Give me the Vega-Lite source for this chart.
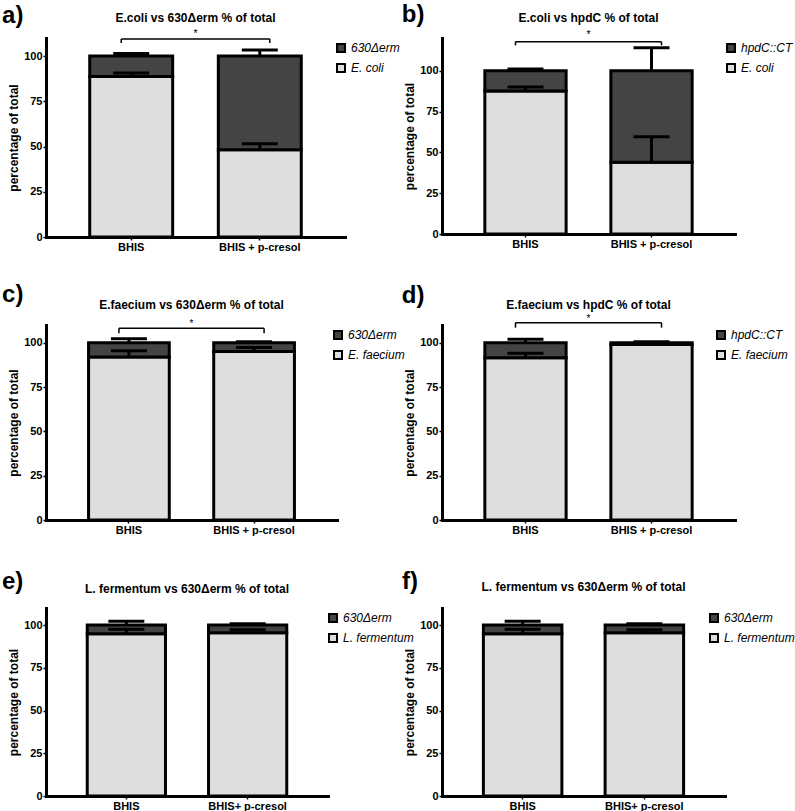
{
  "$schema": "https://vega.github.io/schema/vega-lite/v6.json",
  "padding": {"left": 2, "top": 2, "right": 0, "bottom": 0},
  "columns": 2,
  "bounds": "flush",
  "align": "each",
  "spacing": {"row": 88, "column": 97},
  "resolve": {"scale": {"x": "independent", "y": "independent", "color": "independent"}, "legend": {"color": "independent"}},
  "datasets": {
    "pa": [
      {"group": "BHIS", "species": "E. coli", "rank": 1, "pct": 88.7, "cap": 90.6},
      {"group": "BHIS", "species": "630Δerm", "rank": 2, "pct": 11.3, "cap": 101.5},
      {"group": "BHIS + p-cresol", "species": "E. coli", "rank": 1, "pct": 48.2, "cap": 51.5},
      {"group": "BHIS + p-cresol", "species": "630Δerm", "rank": 2, "pct": 51.8, "cap": 103.3}
    ],
    "pa_br": [{"from": "BHIS", "to": "BHIS + p-cresol", "top": 109.4, "foot": 107.3}],
    "pb": [
      {"group": "BHIS", "species": "E. coli", "rank": 1, "pct": 87.5, "cap": 90},
      {"group": "BHIS", "species": "hpdC::CT", "rank": 2, "pct": 12.5, "cap": 101},
      {"group": "BHIS + p-cresol", "species": "E. coli", "rank": 1, "pct": 44, "cap": 59.5},
      {"group": "BHIS + p-cresol", "species": "hpdC::CT", "rank": 2, "pct": 56, "cap": 114}
    ],
    "pb_br": [{"from": "BHIS", "to": "BHIS + p-cresol", "top": 117.7, "foot": 115.5}],
    "pc": [
      {"group": "BHIS", "species": "E. faecium", "rank": 1, "pct": 92, "cap": 95.5},
      {"group": "BHIS", "species": "630Δerm", "rank": 2, "pct": 8, "cap": 102.3},
      {"group": "BHIS + p-cresol", "species": "E. faecium", "rank": 1, "pct": 95, "cap": 97.3},
      {"group": "BHIS + p-cresol", "species": "630Δerm", "rank": 2, "pct": 5, "cap": 100.6}
    ],
    "pc_br": [{"from": "BHIS", "to": "BHIS + p-cresol", "top": 108.1, "foot": 105.4}],
    "pd": [
      {"group": "BHIS", "species": "E. faecium", "rank": 1, "pct": 91.5, "cap": 94},
      {"group": "BHIS", "species": "hpdC::CT", "rank": 2, "pct": 8.5, "cap": 102},
      {"group": "BHIS + p-cresol", "species": "E. faecium", "rank": 1, "pct": 99, "cap": 99.5},
      {"group": "BHIS + p-cresol", "species": "hpdC::CT", "rank": 2, "pct": 1, "cap": 100.5}
    ],
    "pd_br": [{"from": "BHIS", "to": "BHIS + p-cresol", "top": 111.3, "foot": 108.5}],
    "pe": [
      {"group": "BHIS", "species": "L. fermentum", "rank": 1, "pct": 95, "cap": 97.5},
      {"group": "BHIS", "species": "630Δerm", "rank": 2, "pct": 5, "cap": 102.3},
      {"group": "BHIS+ p-cresol", "species": "L. fermentum", "rank": 1, "pct": 95.5, "cap": 97.3},
      {"group": "BHIS+ p-cresol", "species": "630Δerm", "rank": 2, "pct": 4.5, "cap": 100.8}
    ],
    "pf": [
      {"group": "BHIS", "species": "L. fermentum", "rank": 1, "pct": 95, "cap": 97.5},
      {"group": "BHIS", "species": "630Δerm", "rank": 2, "pct": 5, "cap": 102.3},
      {"group": "BHIS+ p-cresol", "species": "L. fermentum", "rank": 1, "pct": 95.5, "cap": 97.3},
      {"group": "BHIS+ p-cresol", "species": "630Δerm", "rank": 2, "pct": 4.5, "cap": 100.8}
    ]
  },
  "concat": [
    {
      "width": 299, "height": 199,
      "title": {"text": "E.coli vs 630Δerm % of total", "offset": -21},
      "resolve": {"scale": {"x": "independent"}},
      "layer": [
        {
          "encoding": {"x": {"field": "group", "type": "nominal", "sort": null, "scale": {"paddingInner": 0.355, "paddingOuter": 0.34}, "axis": {"title": null, "labelAngle": 0}}},
          "layer": [
            {"data": {"name": "pa"}, "transform": [{"stack": "pct", "groupby": ["group"], "sort": [{"field": "rank", "order": "ascending"}], "as": ["s0", "s1"]}],
             "mark": {"type": "bar", "stroke": "black", "strokeWidth": 3},
             "encoding": {"y": {"field": "s1", "type": "quantitative", "scale": {"domain": [0, 110], "nice": false}, "axis": {"title": "percentage of total", "values": [0, 25, 50, 75, 100]}}, "y2": {"field": "s0"},
               "color": {"field": "species", "type": "nominal", "scale": {"domain": ["630Δerm", "E. coli"], "range": ["#444444", "#dedede"]}, "legend": {"title": null, "offset": -14}}}},
            {"data": {"name": "pa"}, "transform": [{"stack": "pct", "groupby": ["group"], "sort": [{"field": "rank", "order": "ascending"}], "as": ["s0", "s1"]}],
             "mark": {"type": "rule", "color": "black", "strokeWidth": 3},
             "encoding": {"y": {"field": "s1", "type": "quantitative"}, "y2": {"field": "cap"}}},
            {"data": {"name": "pa"}, "mark": {"type": "tick", "color": "black", "thickness": 3, "size": 36, "opacity": 1},
             "encoding": {"y": {"field": "cap", "type": "quantitative"}}},
            {"data": {"name": "pa_br"}, "mark": {"type": "rule", "color": "black", "strokeWidth": 1.5, "xOffset": -10, "x2Offset": 10},
             "encoding": {"x": {"field": "from", "type": "nominal"}, "x2": {"field": "to"}, "y": {"field": "top", "type": "quantitative"}}},
            {"data": {"name": "pa_br"}, "mark": {"type": "rule", "color": "black", "strokeWidth": 1.5, "xOffset": -10},
             "encoding": {"x": {"field": "from", "type": "nominal"}, "y": {"field": "top", "type": "quantitative"}, "y2": {"field": "foot"}}},
            {"data": {"name": "pa_br"}, "mark": {"type": "rule", "color": "black", "strokeWidth": 1.5, "xOffset": 10},
             "encoding": {"x": {"field": "to", "type": "nominal"}, "y": {"field": "top", "type": "quantitative"}, "y2": {"field": "foot"}}}
          ]
        },
        {
          "data": {"values": [{}]},
          "layer": [
            {"mark": {"type": "text", "fontSize": 24, "fontWeight": "bold", "align": "left", "baseline": "middle"},
             "encoding": {"x": {"datum": -0.147, "type": "quantitative", "scale": {"domain": [0, 1]}, "axis": null}, "y": {"datum": 122.2, "type": "quantitative"}, "text": {"value": "a)"}}},
            {"mark": {"type": "text", "fontSize": 10.5, "align": "center", "baseline": "alphabetic"},
             "encoding": {"x": {"datum": 0.5, "type": "quantitative"}, "y": {"datum": 110.7, "type": "quantitative"}, "text": {"value": "*"}}}
          ]
        }
      ]
    },
    {
      "width": 293, "height": 196,
      "title": {"text": "E.coli vs hpdC % of total", "offset": -22},
      "resolve": {"scale": {"x": "independent"}},
      "layer": [
        {
          "encoding": {"x": {"field": "group", "type": "nominal", "sort": null, "scale": {"paddingInner": 0.355, "paddingOuter": 0.34}, "axis": {"title": null, "labelAngle": 0}}},
          "layer": [
            {"data": {"name": "pb"}, "transform": [{"stack": "pct", "groupby": ["group"], "sort": [{"field": "rank", "order": "ascending"}], "as": ["s0", "s1"]}],
             "mark": {"type": "bar", "stroke": "black", "strokeWidth": 3},
             "encoding": {"y": {"field": "s1", "type": "quantitative", "scale": {"domain": [0, 120], "nice": false}, "axis": {"title": "percentage of total", "values": [0, 25, 50, 75, 100]}}, "y2": {"field": "s0"},
               "color": {"field": "species", "type": "nominal", "scale": {"domain": ["hpdC::CT", "E. coli"], "range": ["#444444", "#dedede"]}, "legend": {"title": null, "offset": -14}}}},
            {"data": {"name": "pb"}, "transform": [{"stack": "pct", "groupby": ["group"], "sort": [{"field": "rank", "order": "ascending"}], "as": ["s0", "s1"]}],
             "mark": {"type": "rule", "color": "black", "strokeWidth": 3},
             "encoding": {"y": {"field": "s1", "type": "quantitative"}, "y2": {"field": "cap"}}},
            {"data": {"name": "pb"}, "mark": {"type": "tick", "color": "black", "thickness": 3, "size": 36, "opacity": 1},
             "encoding": {"y": {"field": "cap", "type": "quantitative"}}},
            {"data": {"name": "pb_br"}, "mark": {"type": "rule", "color": "black", "strokeWidth": 1.5, "xOffset": -10, "x2Offset": 10},
             "encoding": {"x": {"field": "from", "type": "nominal"}, "x2": {"field": "to"}, "y": {"field": "top", "type": "quantitative"}}},
            {"data": {"name": "pb_br"}, "mark": {"type": "rule", "color": "black", "strokeWidth": 1.5, "xOffset": -10},
             "encoding": {"x": {"field": "from", "type": "nominal"}, "y": {"field": "top", "type": "quantitative"}, "y2": {"field": "foot"}}},
            {"data": {"name": "pb_br"}, "mark": {"type": "rule", "color": "black", "strokeWidth": 1.5, "xOffset": 10},
             "encoding": {"x": {"field": "to", "type": "nominal"}, "y": {"field": "top", "type": "quantitative"}, "y2": {"field": "foot"}}}
          ]
        },
        {
          "data": {"values": [{}]},
          "layer": [
            {"mark": {"type": "text", "fontSize": 24, "fontWeight": "bold", "align": "left", "baseline": "middle"},
             "encoding": {"x": {"datum": -0.137, "type": "quantitative", "scale": {"domain": [0, 1]}, "axis": null}, "y": {"datum": 134.1, "type": "quantitative"}, "text": {"value": "b)"}}},
            {"mark": {"type": "text", "fontSize": 10.5, "align": "center", "baseline": "alphabetic"},
             "encoding": {"x": {"datum": 0.5, "type": "quantitative"}, "y": {"datum": 120.3, "type": "quantitative"}, "text": {"value": "*"}}}
          ]
        }
      ]
    },
    {
      "width": 291, "height": 195,
      "title": {"text": "E.faecium vs 630Δerm % of total", "offset": -29.5},
      "resolve": {"scale": {"x": "independent"}},
      "layer": [
        {
          "encoding": {"x": {"field": "group", "type": "nominal", "sort": null, "scale": {"paddingInner": 0.355, "paddingOuter": 0.34}, "axis": {"title": null, "labelAngle": 0}}},
          "layer": [
            {"data": {"name": "pc"}, "transform": [{"stack": "pct", "groupby": ["group"], "sort": [{"field": "rank", "order": "ascending"}], "as": ["s0", "s1"]}],
             "mark": {"type": "bar", "stroke": "black", "strokeWidth": 3},
             "encoding": {"y": {"field": "s1", "type": "quantitative", "scale": {"domain": [0, 110], "nice": false}, "axis": {"title": "percentage of total", "values": [0, 25, 50, 75, 100]}}, "y2": {"field": "s0"},
               "color": {"field": "species", "type": "nominal", "scale": {"domain": ["630Δerm", "E. faecium"], "range": ["#444444", "#dedede"]}, "legend": {"title": null, "offset": -9}}}},
            {"data": {"name": "pc"}, "transform": [{"stack": "pct", "groupby": ["group"], "sort": [{"field": "rank", "order": "ascending"}], "as": ["s0", "s1"]}],
             "mark": {"type": "rule", "color": "black", "strokeWidth": 3},
             "encoding": {"y": {"field": "s1", "type": "quantitative"}, "y2": {"field": "cap"}}},
            {"data": {"name": "pc"}, "mark": {"type": "tick", "color": "black", "thickness": 3, "size": 36, "opacity": 1},
             "encoding": {"y": {"field": "cap", "type": "quantitative"}}},
            {"data": {"name": "pc_br"}, "mark": {"type": "rule", "color": "black", "strokeWidth": 1.5, "xOffset": -10, "x2Offset": 10},
             "encoding": {"x": {"field": "from", "type": "nominal"}, "x2": {"field": "to"}, "y": {"field": "top", "type": "quantitative"}}},
            {"data": {"name": "pc_br"}, "mark": {"type": "rule", "color": "black", "strokeWidth": 1.5, "xOffset": -10},
             "encoding": {"x": {"field": "from", "type": "nominal"}, "y": {"field": "top", "type": "quantitative"}, "y2": {"field": "foot"}}},
            {"data": {"name": "pc_br"}, "mark": {"type": "rule", "color": "black", "strokeWidth": 1.5, "xOffset": 10},
             "encoding": {"x": {"field": "to", "type": "nominal"}, "y": {"field": "top", "type": "quantitative"}, "y2": {"field": "foot"}}}
          ]
        },
        {
          "data": {"values": [{}]},
          "layer": [
            {"mark": {"type": "text", "fontSize": 24, "fontWeight": "bold", "align": "left", "baseline": "middle"},
             "encoding": {"x": {"datum": -0.151, "type": "quantitative", "scale": {"domain": [0, 1]}, "axis": null}, "y": {"datum": 127.2, "type": "quantitative"}, "text": {"value": "c)"}}},
            {"mark": {"type": "text", "fontSize": 10, "align": "center", "baseline": "alphabetic"},
             "encoding": {"x": {"datum": 0.5, "type": "quantitative"}, "y": {"datum": 108.6, "type": "quantitative"}, "text": {"value": "*"}}}
          ]
        }
      ]
    },
    {
      "width": 293, "height": 195,
      "title": {"text": "E.faecium vs hpdC % of total", "offset": -28.5},
      "resolve": {"scale": {"x": "independent"}},
      "layer": [
        {
          "encoding": {"x": {"field": "group", "type": "nominal", "sort": null, "scale": {"paddingInner": 0.355, "paddingOuter": 0.34}, "axis": {"title": null, "labelAngle": 0}}},
          "layer": [
            {"data": {"name": "pd"}, "transform": [{"stack": "pct", "groupby": ["group"], "sort": [{"field": "rank", "order": "ascending"}], "as": ["s0", "s1"]}],
             "mark": {"type": "bar", "stroke": "black", "strokeWidth": 3},
             "encoding": {"y": {"field": "s1", "type": "quantitative", "scale": {"domain": [0, 110], "nice": false}, "axis": {"title": "percentage of total", "values": [0, 25, 50, 75, 100]}}, "y2": {"field": "s0"},
               "color": {"field": "species", "type": "nominal", "scale": {"domain": ["hpdC::CT", "E. faecium"], "range": ["#444444", "#dedede"]}, "legend": {"title": null, "offset": -24}}}},
            {"data": {"name": "pd"}, "transform": [{"stack": "pct", "groupby": ["group"], "sort": [{"field": "rank", "order": "ascending"}], "as": ["s0", "s1"]}],
             "mark": {"type": "rule", "color": "black", "strokeWidth": 3},
             "encoding": {"y": {"field": "s1", "type": "quantitative"}, "y2": {"field": "cap"}}},
            {"data": {"name": "pd"}, "mark": {"type": "tick", "color": "black", "thickness": 3, "size": 36, "opacity": 1},
             "encoding": {"y": {"field": "cap", "type": "quantitative"}}},
            {"data": {"name": "pd_br"}, "mark": {"type": "rule", "color": "black", "strokeWidth": 1.5, "xOffset": -10, "x2Offset": 10},
             "encoding": {"x": {"field": "from", "type": "nominal"}, "x2": {"field": "to"}, "y": {"field": "top", "type": "quantitative"}}},
            {"data": {"name": "pd_br"}, "mark": {"type": "rule", "color": "black", "strokeWidth": 1.5, "xOffset": -10},
             "encoding": {"x": {"field": "from", "type": "nominal"}, "y": {"field": "top", "type": "quantitative"}, "y2": {"field": "foot"}}},
            {"data": {"name": "pd_br"}, "mark": {"type": "rule", "color": "black", "strokeWidth": 1.5, "xOffset": 10},
             "encoding": {"x": {"field": "to", "type": "nominal"}, "y": {"field": "top", "type": "quantitative"}, "y2": {"field": "foot"}}}
          ]
        },
        {
          "data": {"values": [{}]},
          "layer": [
            {"mark": {"type": "text", "fontSize": 24, "fontWeight": "bold", "align": "left", "baseline": "middle"},
             "encoding": {"x": {"datum": -0.137, "type": "quantitative", "scale": {"domain": [0, 1]}, "axis": null}, "y": {"datum": 126.4, "type": "quantitative"}, "text": {"value": "d)"}}},
            {"mark": {"type": "text", "fontSize": 10, "align": "center", "baseline": "alphabetic"},
             "encoding": {"x": {"datum": 0.5, "type": "quantitative"}, "y": {"datum": 111.7, "type": "quantitative"}, "text": {"value": "*"}}}
          ]
        }
      ]
    },
    {
      "width": 282, "height": 188,
      "title": {"text": "L. fermentum vs 630Δerm % of total", "offset": -26},
      "resolve": {"scale": {"x": "independent"}},
      "layer": [
        {
          "encoding": {"x": {"field": "group", "type": "nominal", "sort": null, "scale": {"paddingInner": 0.355, "paddingOuter": 0.34}, "axis": {"title": null, "labelAngle": 0}}},
          "layer": [
            {"data": {"name": "pe"}, "transform": [{"stack": "pct", "groupby": ["group"], "sort": [{"field": "rank", "order": "ascending"}], "as": ["s0", "s1"]}],
             "mark": {"type": "bar", "stroke": "black", "strokeWidth": 3},
             "encoding": {"y": {"field": "s1", "type": "quantitative", "scale": {"domain": [0, 110], "nice": false}, "axis": {"title": "percentage of total", "values": [0, 25, 50, 75, 100]}}, "y2": {"field": "s0"},
               "color": {"field": "species", "type": "nominal", "scale": {"domain": ["630Δerm", "L. fermentum"], "range": ["#444444", "#dedede"]}, "legend": {"title": null, "offset": -5}}}},
            {"data": {"name": "pe"}, "transform": [{"stack": "pct", "groupby": ["group"], "sort": [{"field": "rank", "order": "ascending"}], "as": ["s0", "s1"]}],
             "mark": {"type": "rule", "color": "black", "strokeWidth": 3},
             "encoding": {"y": {"field": "s1", "type": "quantitative"}, "y2": {"field": "cap"}}},
            {"data": {"name": "pe"}, "mark": {"type": "tick", "color": "black", "thickness": 3, "size": 36, "opacity": 1},
             "encoding": {"y": {"field": "cap", "type": "quantitative"}}}
          ]
        },
        {
          "data": {"values": [{}]},
          "mark": {"type": "text", "fontSize": 24, "fontWeight": "bold", "align": "left", "baseline": "middle"},
          "encoding": {"x": {"datum": -0.156, "type": "quantitative", "scale": {"domain": [0, 1]}, "axis": null}, "y": {"datum": 125.2, "type": "quantitative"}, "text": {"value": "e)"}}
        }
      ]
    },
    {
      "width": 283, "height": 188,
      "title": {"text": "L. fermentum vs 630Δerm % of total", "offset": -24},
      "resolve": {"scale": {"x": "independent"}},
      "layer": [
        {
          "encoding": {"x": {"field": "group", "type": "nominal", "sort": null, "scale": {"paddingInner": 0.355, "paddingOuter": 0.34}, "axis": {"title": null, "labelAngle": 0}}},
          "layer": [
            {"data": {"name": "pf"}, "transform": [{"stack": "pct", "groupby": ["group"], "sort": [{"field": "rank", "order": "ascending"}], "as": ["s0", "s1"]}],
             "mark": {"type": "bar", "stroke": "black", "strokeWidth": 3},
             "encoding": {"y": {"field": "s1", "type": "quantitative", "scale": {"domain": [0, 110], "nice": false}, "axis": {"title": "percentage of total", "values": [0, 25, 50, 75, 100]}}, "y2": {"field": "s0"},
               "color": {"field": "species", "type": "nominal", "scale": {"domain": ["630Δerm", "L. fermentum"], "range": ["#444444", "#dedede"]}, "legend": {"title": null, "offset": -21}}}},
            {"data": {"name": "pf"}, "transform": [{"stack": "pct", "groupby": ["group"], "sort": [{"field": "rank", "order": "ascending"}], "as": ["s0", "s1"]}],
             "mark": {"type": "rule", "color": "black", "strokeWidth": 3},
             "encoding": {"y": {"field": "s1", "type": "quantitative"}, "y2": {"field": "cap"}}},
            {"data": {"name": "pf"}, "mark": {"type": "tick", "color": "black", "thickness": 3, "size": 36, "opacity": 1},
             "encoding": {"y": {"field": "cap", "type": "quantitative"}}}
          ]
        },
        {
          "data": {"values": [{}]},
          "mark": {"type": "text", "fontSize": 24, "fontWeight": "bold", "align": "left", "baseline": "middle"},
          "encoding": {"x": {"datum": -0.141, "type": "quantitative", "scale": {"domain": [0, 1]}, "axis": null}, "y": {"datum": 125.2, "type": "quantitative"}, "text": {"value": "f)"}}
        }
      ]
    }
  ],
  "config": {
    "font": "Liberation Sans",
    "view": {"stroke": null},
    "title": {"fontSize": 12, "fontWeight": "bold", "color": "black", "anchor": "middle", "frame": "group"},
    "axis": {"domainColor": "black", "domainWidth": 3, "domainCap": "square", "tickColor": "black", "tickWidth": 1.5, "tickSize": 3, "labelFontSize": 11, "labelFontWeight": "bold", "labelColor": "black", "titleFontSize": 12, "titleFontWeight": "bold", "titleColor": "black", "grid": false},
    "axisY": {"labelPadding": 1, "titlePadding": 3},
    "axisX": {"labelPadding": 1},
    "legend": {"orient": "right", "symbolType": "square", "symbolSize": 64, "symbolStrokeColor": "black", "symbolStrokeWidth": 2, "labelFontSize": 12, "labelFontStyle": "italic", "labelColor": "black", "labelOffset": 4, "rowPadding": 4, "padding": 4, "labelLimit": 200}
  }
}
